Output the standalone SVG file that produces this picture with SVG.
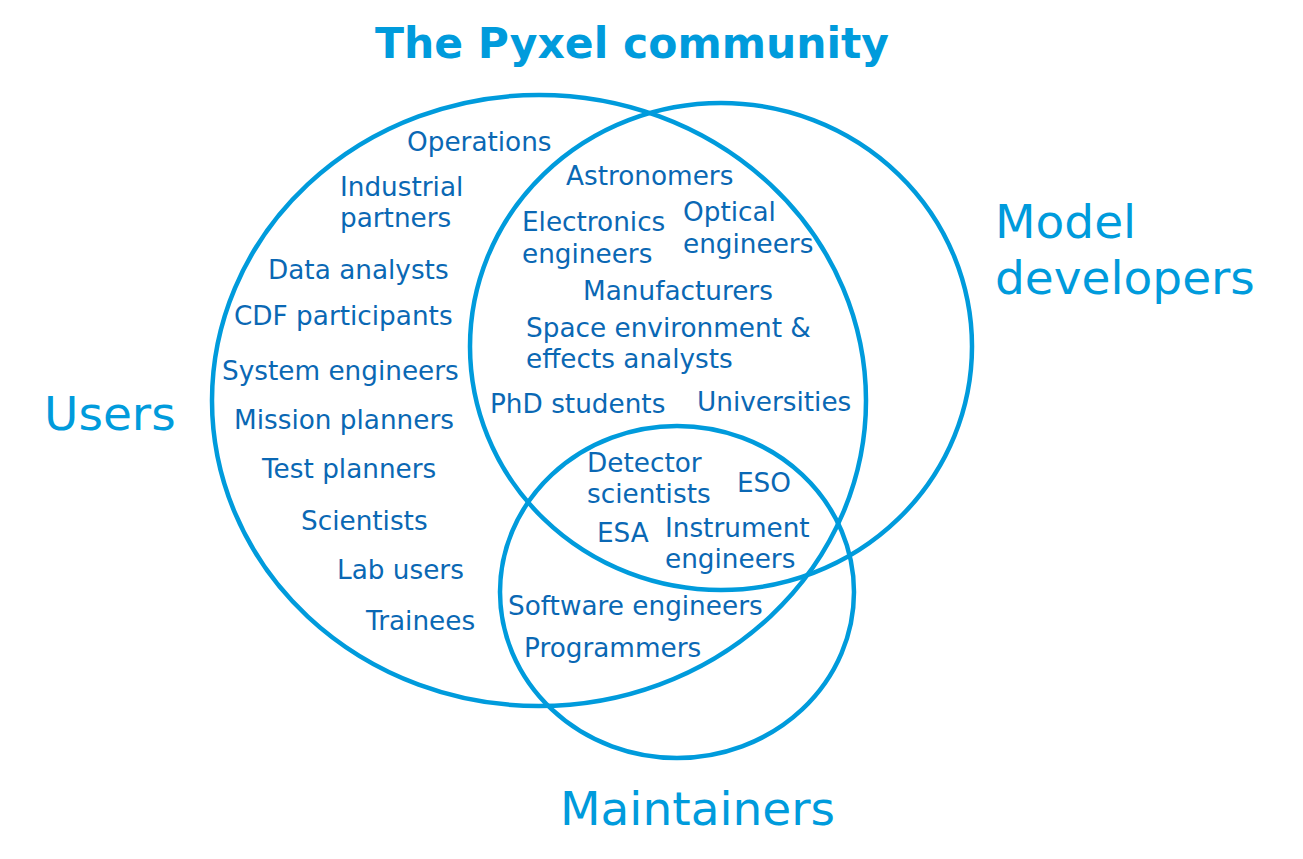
<svg xmlns="http://www.w3.org/2000/svg" width="1303" height="859" viewBox="0 0 1303 859">
<style>
.c{fill:none;stroke:#009bdc;stroke-width:4.5}
.h{font-family:"DejaVu Sans",Verdana,sans-serif;fill:#009bdc;font-size:47px}
.t{font-family:"DejaVu Sans",Verdana,sans-serif;fill:#0a68b4;font-size:26.3px}
</style>
<rect width="1303" height="859" fill="#fff"/>
<text x="632" y="58" text-anchor="middle" class="h" style="font-weight:bold;font-size:42.5px">The Pyxel community</text>
<g id="users">
<ellipse class="c" cx="539" cy="400.5" rx="327" ry="305.5"/>
<text x="44" y="430" class="h">Users</text>
</g>
<g id="model-developers">
<ellipse class="c" cx="721" cy="346.5" rx="251" ry="243.5"/>
<text x="995" y="238" class="h">Model</text>
<text x="995" y="294" class="h">developers</text>
</g>
<g id="maintainers">
<ellipse class="c" cx="677" cy="592" rx="177" ry="166"/>
<text x="560" y="825" class="h">Maintainers</text>
</g>
<g id="labels" class="t">
<text x="407" y="151">Operations</text>
<text x="340" y="196">Industrial</text>
<text x="340" y="227">partners</text>
<text x="268" y="279">Data analysts</text>
<text x="234" y="325">CDF participants</text>
<text x="222" y="380">System engineers</text>
<text x="234" y="429">Mission planners</text>
<text x="262" y="478">Test planners</text>
<text x="301" y="530">Scientists</text>
<text x="337" y="579">Lab users</text>
<text x="366" y="630">Trainees</text>
<text x="566" y="185">Astronomers</text>
<text x="522" y="231">Electronics</text>
<text x="522" y="263">engineers</text>
<text x="683" y="221">Optical</text>
<text x="683" y="253">engineers</text>
<text x="583" y="300">Manufacturers</text>
<text x="526" y="337">Space environment &amp;</text>
<text x="526" y="368">effects analysts</text>
<text x="490" y="413">PhD students</text>
<text x="697" y="411">Universities</text>
<text x="587" y="472">Detector</text>
<text x="587" y="503">scientists</text>
<text x="737" y="492">ESO</text>
<text x="597" y="542">ESA</text>
<text x="665" y="537">Instrument</text>
<text x="665" y="568">engineers</text>
<text x="508" y="615">Software engineers</text>
<text x="524" y="657">Programmers</text>
</g>
</svg>
